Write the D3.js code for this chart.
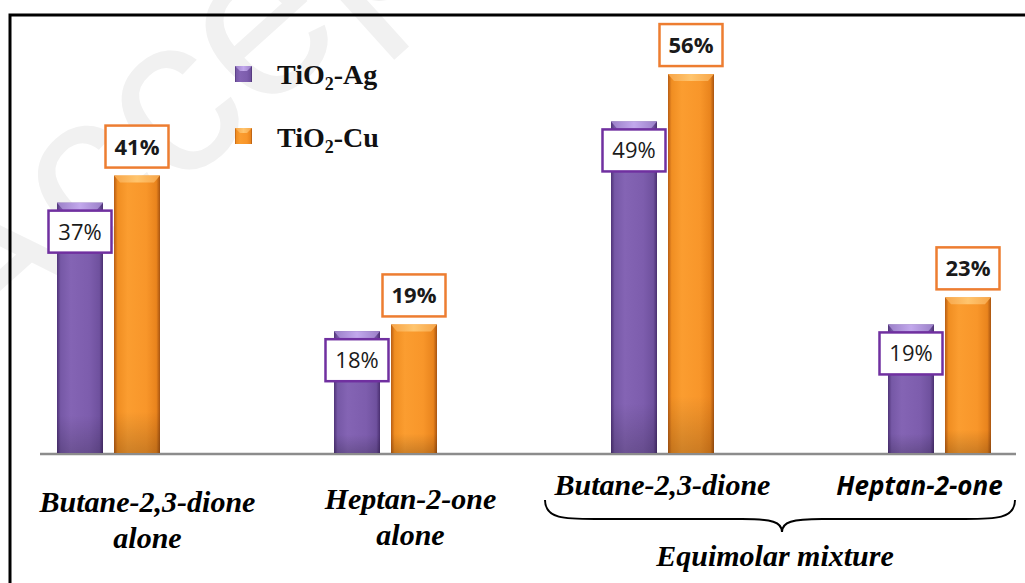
<!DOCTYPE html>
<html><head><meta charset="utf-8">
<script src="https://cdn.jsdelivr.net/npm/d3@7"></script>
<style>html,body{margin:0;padding:0;background:#fff;}svg{display:block;}</style>
</head><body>
<svg id="chart" width="1025" height="583"></svg>
<script>
const categories = ["Butane-2,3-dione alone", "Heptan-2-one alone", "Butane-2,3-dione (mixture)", "Heptan-2-one (mixture)"];
const series = ["TiO2-Ag", "TiO2-Cu"];
const agValues = [37, 18, 49, 19];
const cuValues = [41, 19, 56, 23];

const svg = d3.select("#chart");
const baseY = 453;

// watermark
svg.append("text").attr("x", -20).attr("y", 370)
  .attr("transform", "rotate(-42,-20,370)")
  .attr("font-family", "Liberation Sans, Arial, sans-serif")
  .attr("font-size", 225).attr("fill", "#f1f1f1")
  .text("Accepted");

// frame
svg.append("rect").attr("x", 10).attr("y", 15).attr("width", 1030).attr("height", 600)
  .attr("fill", "none").attr("stroke", "#000").attr("stroke-width", 3);

const x0 = d3.scalePoint().domain(categories).range([108.5, 939.5]);
const x1 = d3.scaleBand().domain(series).range([-51.5, 51.5]).paddingInner(0.193).paddingOuter(0);
const y = d3.scaleLinear().domain([0, 60]).range([baseY, baseY - 406]);

const defs = svg.append("defs");
function grad(id, stops) {
  const g = defs.append("linearGradient").attr("id", id).attr("x1", "0").attr("x2", "1").attr("y1", "0").attr("y2", "0");
  stops.forEach(s => g.append("stop").attr("offset", s[0]).attr("stop-color", s[1]));
}
grad("gAg", [[0, "#4f3378"], [0.08, "#7658a6"], [0.3, "#8464b4"], [0.7, "#7d5dad"], [0.92, "#6f519e"], [1, "#4a2f70"]]);
grad("gCu", [[0, "#b85d14"], [0.08, "#f08e22"], [0.3, "#fb9d30"], [0.7, "#f8962a"], [0.92, "#e9841d"], [1, "#a85410"]]);
grad("gAgTop", [[0, "#9a7fc7"], [0.5, "#c2a8ec"], [1, "#9a7fc7"]]);
grad("gCuTop", [[0, "#f7a548"], [0.5, "#ffc56e"], [1, "#f7a548"]]);
const vg = defs.append("linearGradient").attr("id", "gShade").attr("x1", "0").attr("x2", "0").attr("y1", "0").attr("y2", "1");
vg.append("stop").attr("offset", 0).attr("stop-color", "#000").attr("stop-opacity", 0);
vg.append("stop").attr("offset", 0.85).attr("stop-color", "#000").attr("stop-opacity", 0);
vg.append("stop").attr("offset", 1).attr("stop-color", "#000").attr("stop-opacity", 0.18);

const colors = {"TiO2-Ag": {body: "url(#gAg)", top: "url(#gAgTop)", stroke: "#7030a0"},
                "TiO2-Cu": {body: "url(#gCu)", top: "url(#gCuTop)", stroke: "#ed7d31"}};

const data = [];
categories.forEach((c, i) => {
  data.push({cat: c, s: "TiO2-Ag", v: agValues[i]});
  data.push({cat: c, s: "TiO2-Cu", v: cuValues[i]});
});

// baseline
svg.append("line").attr("x1", 40).attr("x2", 1016).attr("y1", baseY + 1).attr("y2", baseY + 1)
  .attr("stroke", "#8c8c8c").attr("stroke-width", 2.5);

const bars = svg.append("g").selectAll("g").data(data).join("g");
bars.each(function(d) {
  const g = d3.select(this);
  const bx = x0(d.cat) + x1(d.s), bw = x1.bandwidth();
  const top = y(d.v), h = baseY - top;
  g.append("rect").attr("x", bx).attr("y", top).attr("width", bw).attr("height", h).attr("fill", colors[d.s].body);
  g.append("rect").attr("x", bx).attr("y", top).attr("width", bw).attr("height", h).attr("fill", "url(#gShade)");
  g.append("polygon")
    .attr("points", [[bx, top], [bx + bw, top], [bx + bw - 6, top + 7], [bx + 6, top + 7]].map(p => p.join(",")).join(" "))
    .attr("fill", colors[d.s].top);
});

// data labels
const labels = svg.append("g").selectAll("g").data(data).join("g");
labels.each(function(d) {
  const g = d3.select(this);
  const cx = x0(d.cat) + x1(d.s) + x1.bandwidth() / 2;
  const top = y(d.v);
  const bw = 63, bh = 42;
  const by = d.s === "TiO2-Ag" ? top + 8 : top - 8 - bh;
  g.append("rect").attr("x", cx - bw / 2).attr("y", by).attr("width", bw).attr("height", bh)
    .attr("fill", "#fff").attr("stroke", colors[d.s].stroke).attr("stroke-width", 2.5);
  g.append("text").attr("x", cx).attr("y", by + bh / 2 + 8).attr("text-anchor", "middle")
    .attr("font-family", "Open Sans, Liberation Sans, sans-serif").attr("font-size", 22)
    .attr("font-weight", d.s === "TiO2-Cu" ? "bold" : "normal").attr("fill", "#1a1a1a")
    .text(d.v + "%");
});

// legend
const legend = svg.append("g");
const legY = [66, 128], legTextY = [84, 147];
series.forEach((s, i) => {
  const lx = 235, ly = legY[i];
  const gi = legend.append("g");
  gi.append("rect").attr("x", lx).attr("y", ly).attr("width", 17).attr("height", 16).attr("fill", colors[s].body);
  gi.append("polygon").attr("points", `${lx},${ly} ${lx+17},${ly} ${lx+12},${ly+5} ${lx+5},${ly+5}`).attr("fill", colors[s].top);
  const t = gi.append("text").attr("x", 277).attr("y", legTextY[i])
    .attr("font-family", "Liberation Serif, Times New Roman, serif").attr("font-weight", "bold")
    .attr("font-size", 28).attr("fill", "#111");
  const parts = s.split("2");
  t.append("tspan").text(parts[0]);
  t.append("tspan").attr("font-size", 18).attr("dy", 6).text("2");
  t.append("tspan").attr("dy", -6).text(parts[1]);
});

// category labels
const serifBI = "Liberation Serif, Times New Roman, serif";
function lab(x, yy, txt, fam, size) {
  svg.append("text").attr("x", x).attr("y", yy).attr("text-anchor", "middle")
    .attr("font-family", fam).attr("font-weight", "bold").attr("font-style", "italic")
    .attr("font-size", size).attr("fill", "#000").text(txt);
}
lab(x0(categories[0]) + 39, 512, "Butane-2,3-dione", serifBI, 30);
lab(x0(categories[0]) + 39, 548, "alone", serifBI, 30);
lab(x0(categories[1]) + 25, 509, "Heptan-2-one", serifBI, 30);
lab(x0(categories[1]) + 25, 545, "alone", serifBI, 30);
lab(x0(categories[2]) + 0, 495, "Butane-2,3-dione", serifBI, 30);
lab(x0(categories[3]) - 20, 495, "Heptan-2-one", "Open Sans, Liberation Sans, sans-serif", 26);

// brace
const bx1 = 545, bx2 = 1015, tipX = 782, by0 = 500, byMid = 519, byTip = 532;
svg.append("path")
  .attr("d", `M${bx1},${by0} C${bx1},${byMid} ${bx1+20},${byMid} ${bx1+50},${byMid} L${tipX-40},${byMid} C${tipX-10},${byMid} ${tipX},${byMid+3} ${tipX},${byTip} C${tipX},${byMid+3} ${tipX+10},${byMid} ${tipX+40},${byMid} L${bx2-50},${byMid} C${bx2-20},${byMid} ${bx2},${byMid} ${bx2},${by0}`)
  .attr("fill", "none").attr("stroke", "#000").attr("stroke-width", 2);
lab(775, 566, "Equimolar mixture", serifBI, 30);
</script>
</body></html>
